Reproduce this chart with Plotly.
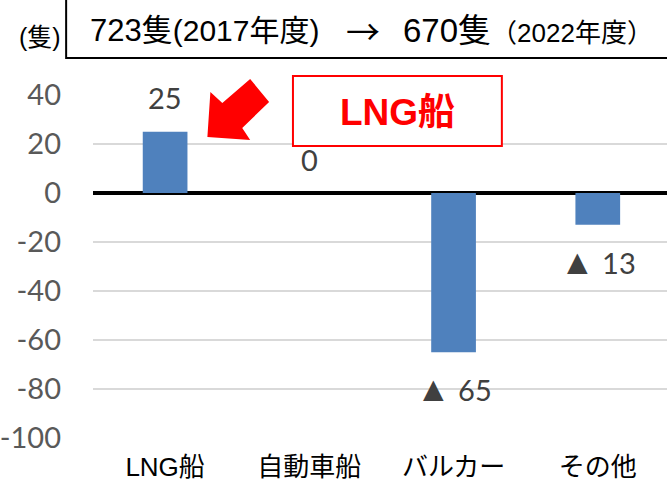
import plotly.graph_objects as go

categories = ["LNG船", "自動車船", "バルカー", "その他"]
change = [25, 0, -65, -13]
y_ticks = [40, 20, 0, -20, -40, -60, -80, -100]

W, H = 667, 488
L, R, T, B = 90, 0, 95, 50


def px(x):
  return (x - L) / (W - L - R)


def py(y):
  return (H - B - y) / (H - T - B)


def fmt(v):
  if v >= 0:
    return str(v)
  return "<span style='font-size:35px'>▲</span> " + str(-v)


JP = "Liberation Sans, Noto Sans CJK JP"
NUM = "Lato, Noto Sans"

fig = go.Figure()
fig.add_trace(go.Bar(
  x=categories,
  y=change,
  width=0.31,
  marker=dict(color="#4F81BD", line=dict(width=0)),
  hoverinfo="skip"
))

# data labels
for c, v in zip(categories, change):
  fig.add_annotation(
    x=c, y=v, text=fmt(v), showarrow=False,
    yshift=34 if v >= 0 else -35,
    font=dict(family=NUM, size=29, color="#404040")
  )

# header box
fig.add_shape(type="rect", xref="paper", yref="paper",
              x0=px(63), x1=px(700), y0=py(58), y1=py(-20),
              line=dict(color="black", width=2), fillcolor="rgba(0,0,0,0)")
fig.add_annotation(xref="paper", yref="paper", x=px(37), y=py(37),
                   text="(隻)", showarrow=False, xanchor="center", yanchor="middle",
                   font=dict(family=JP, size=25, color="black"))
fig.add_annotation(xref="paper", yref="paper", x=px(85), y=py(30),
                   text="723隻<span style='font-size:30px'>(2017年度)</span>",
                   showarrow=False, xanchor="left", yanchor="middle",
                   font=dict(family=JP, size=31, color="black"))
fig.add_annotation(xref="paper", yref="paper", x=px(361), y=py(31),
                   text="→", showarrow=False, xanchor="center", yanchor="middle",
                   font=dict(family="Noto Sans CJK JP", size=34, color="black"))
fig.add_annotation(xref="paper", yref="paper", x=px(400), y=py(30),
                   text="670隻<span style='font-size:26px'>（2022年度）</span>",
                   showarrow=False, xanchor="left", yanchor="middle",
                   font=dict(family=JP, size=33, color="black"))

# red callout
fig.add_shape(type="rect", xref="paper", yref="paper",
              x0=px(291), x1=px(501), y0=py(146), y1=py(76),
              line=dict(color="#FF0000", width=2), fillcolor="white")
fig.add_annotation(xref="paper", yref="paper", x=px(396), y=py(112),
                   text="<b>LNG船</b>", showarrow=False,
                   xanchor="center", yanchor="middle",
                   font=dict(family=JP, size=37, color="#FF0000"))
arrow = [(205, 137), (208, 92), (220, 103), (248, 79), (267, 102),
         (240, 128), (248, 140)]
path = "M " + " L ".join(f"{px(a):.4f},{py(b):.4f}" for a, b in arrow) + " Z"
fig.add_shape(type="path", xref="paper", yref="paper", path=path,
              fillcolor="#FF0000", line=dict(width=0))

fig.update_layout(
  width=W, height=H,
  margin=dict(l=L, r=R, t=T, b=B),
  plot_bgcolor="white", paper_bgcolor="white",
  showlegend=False,
)
fig.update_xaxes(
  range=[-0.5, 3.48],
  tickfont=dict(family=JP, size=26, color="black"),
  ticklabelstandoff=11,
  showgrid=False, showline=False, zeroline=False,
)
fig.update_yaxes(
  range=[-100, 40],
  tickvals=y_ticks,
  ticktext=[str(t) for t in y_ticks],
  tickfont=dict(family=NUM, size=29, color="#595959"),
  ticklabelstandoff=31,
  showgrid=True, gridcolor="#D9D9D9", gridwidth=2,
  zeroline=True, zerolinecolor="black", zerolinewidth=4,
  showline=False,
)

fig.write_html("out.html", config={"displayModeBar": False},
               post_script="document.body.style.margin='0';")
